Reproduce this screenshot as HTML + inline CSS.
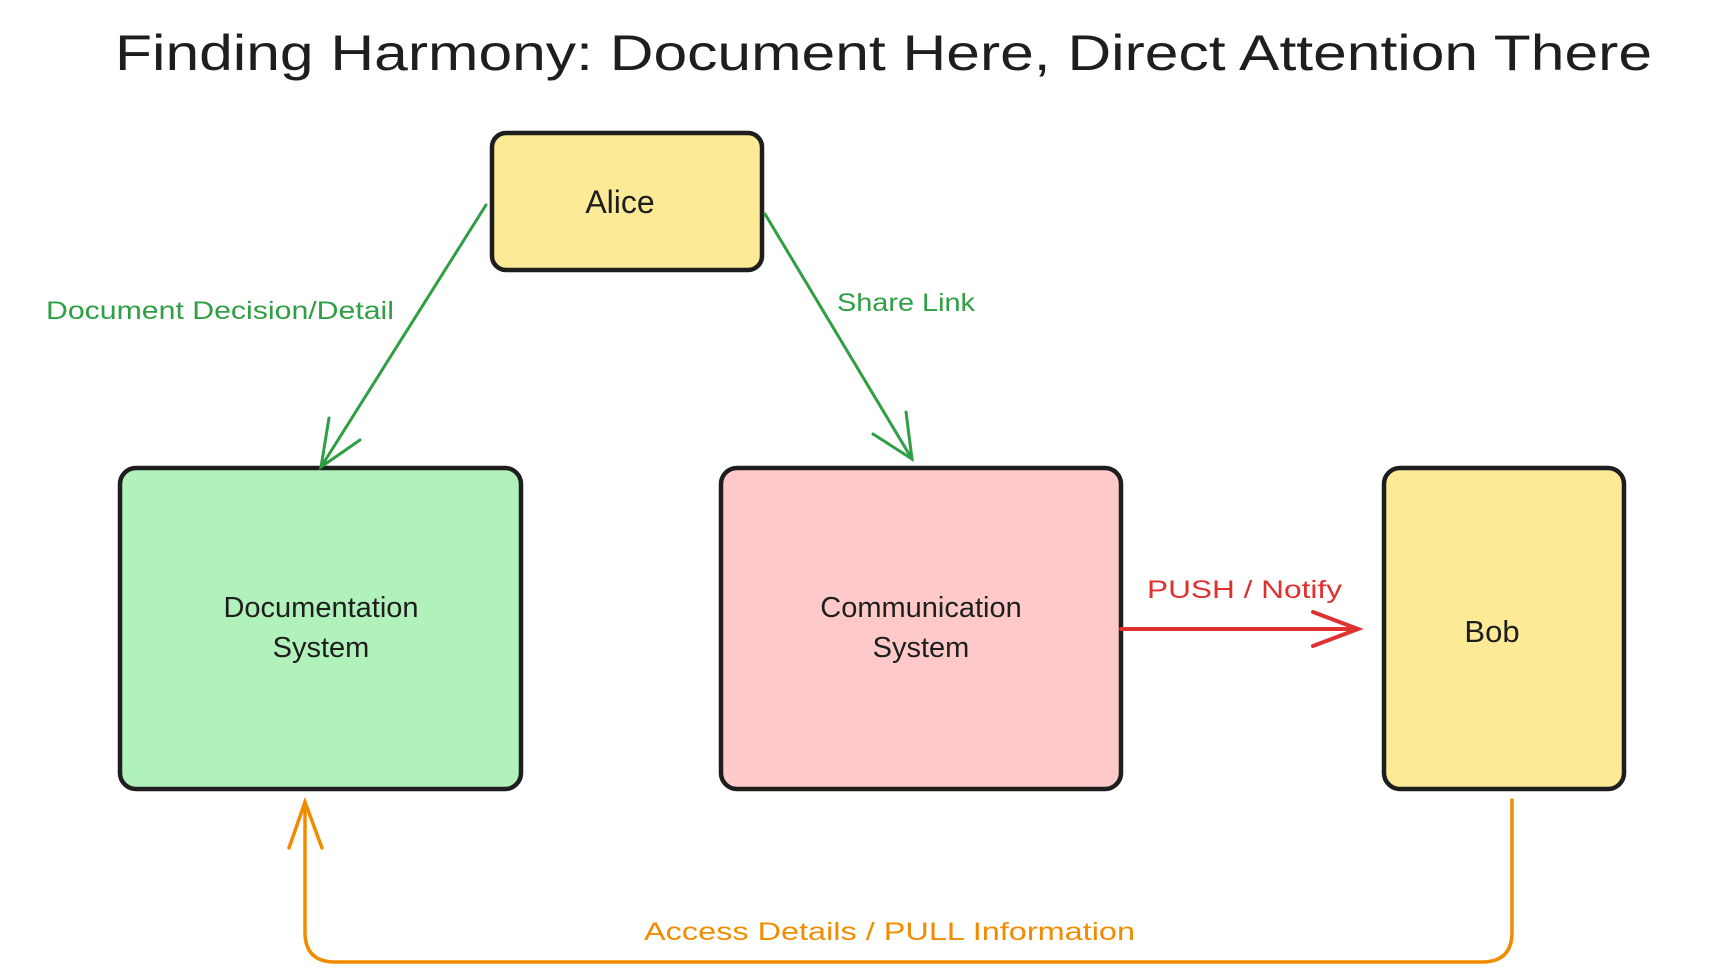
<!DOCTYPE html>
<html><head><meta charset="utf-8"><style>
html,body{margin:0;padding:0;background:#fff;}
svg{display:block;}
text{font-family:"Liberation Sans",sans-serif;}
</style></head><body>
<svg width="1714" height="976" viewBox="0 0 1714 976" xmlns="http://www.w3.org/2000/svg">
<text x="115" y="70" font-size="50" fill="#1e1e1e" textLength="1537" lengthAdjust="spacingAndGlyphs">Finding Harmony: Document Here, Direct Attention There</text>

<rect x="492" y="133" width="270" height="137" rx="14" fill="#fdea97" stroke="#1e1e1e" stroke-width="4.5"/>
<text x="620" y="213" font-size="32" text-anchor="middle" fill="#1e1e1e">Alice</text>

<rect x="120" y="468" width="401" height="321" rx="16" fill="#b1f1bb" stroke="#1e1e1e" stroke-width="4.5"/>
<text x="321" y="617" font-size="29" text-anchor="middle" fill="#1e1e1e">Documentation</text>
<text x="321" y="657" font-size="29" text-anchor="middle" fill="#1e1e1e">System</text>

<rect x="721" y="468" width="400" height="321" rx="16" fill="#ffc9c9" stroke="#1e1e1e" stroke-width="4.5"/>
<text x="921" y="617" font-size="29" text-anchor="middle" fill="#1e1e1e">Communication</text>
<text x="921" y="657" font-size="29" text-anchor="middle" fill="#1e1e1e">System</text>

<rect x="1384" y="468" width="240" height="321" rx="16" fill="#fdea97" stroke="#1e1e1e" stroke-width="4.5"/>
<text x="1492" y="642" font-size="31" text-anchor="middle" fill="#1e1e1e">Bob</text>

<g fill="none" stroke="#2f9e44" stroke-width="3" stroke-linecap="round">
<path d="M486 205 L321 467"/>
<path d="M329 418 L321 467 L360 440"/>
<path d="M765 214 L912 459"/>
<path d="M873 434 L912 459 L906 412"/>
</g>
<text x="46" y="319" font-size="25" fill="#2f9e44" textLength="348" lengthAdjust="spacingAndGlyphs">Document Decision/Detail</text>
<text x="837" y="311" font-size="25" fill="#2f9e44" textLength="138" lengthAdjust="spacingAndGlyphs">Share Link</text>

<g fill="none" stroke="#e03131" stroke-width="4" stroke-linecap="round">
<path d="M1121 629 L1358 629"/>
<path d="M1313 612 L1358 629 L1313 646"/>
</g>
<text x="1147" y="598" font-size="25" fill="#e03131" textLength="195" lengthAdjust="spacingAndGlyphs">PUSH / Notify</text>

<g fill="none" stroke="#f08c00" stroke-width="3.5" stroke-linecap="round">
<path d="M1512 800 L1512 932 Q1512 962 1482 962 L335 962 Q305 962 305 932 L305 802"/>
<path d="M289 848 L305 802 L322 848"/>
</g>
<text x="644" y="940" font-size="25" fill="#f08c00" textLength="491" lengthAdjust="spacingAndGlyphs">Access Details / PULL Information</text>
</svg>
</body></html>
